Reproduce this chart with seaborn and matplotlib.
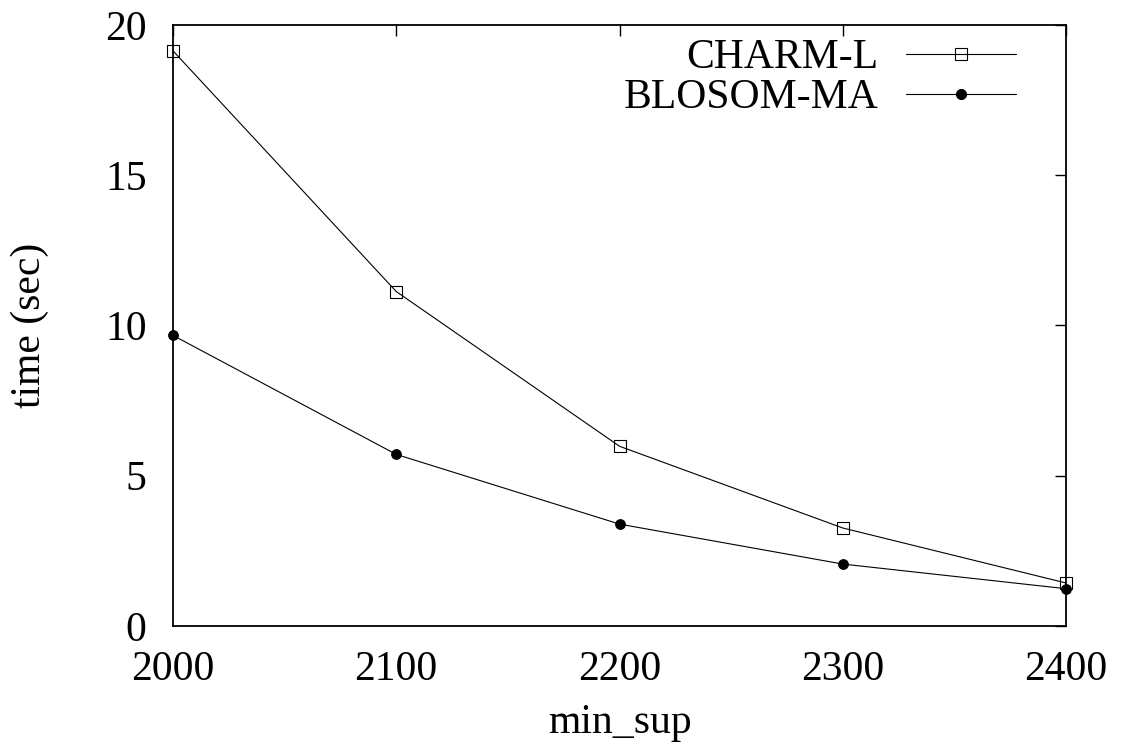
import matplotlib
matplotlib.use("Agg")
import matplotlib.pyplot as plt
import seaborn as sns
import pandas as pd
from matplotlib.lines import Line2D

min_sup = [2000, 2100, 2200, 2300, 2400]
charm_l = [19.14, 11.13, 5.98, 3.26, 1.43]
blosom_ma = [9.67, 5.71, 3.39, 2.06, 1.24]
series_names = ["CHARM-L", "BLOSOM-MA"]
x_ticks = [2000, 2100, 2200, 2300, 2400]
y_ticks = [0, 5, 10, 15, 20]

sns.set_theme(style="white")
plt.rcParams["font.family"] = ["Liberation Serif", "DejaVu Serif"]
plt.rcParams["text.color"] = "black"
plt.rcParams["axes.labelcolor"] = "black"
plt.rcParams["xtick.color"] = "black"
plt.rcParams["ytick.color"] = "black"

FS = 30

df = pd.DataFrame({
    "min_sup": min_sup * 2,
    "time": charm_l + blosom_ma,
    "series": [series_names[0]] * len(min_sup) + [series_names[1]] * len(min_sup),
})

fig = plt.figure(figsize=(11.21, 7.46), dpi=100)
ax = fig.add_axes([0.1543, 0.1609, 0.951 - 0.1543, 0.9665 - 0.1609])

sns.lineplot(data=df, x="min_sup", y="time", hue="series", style="series",
             palette={series_names[0]: "black", series_names[1]: "black"},
             markers={series_names[0]: "s", series_names[1]: "o"},
             dashes=False, linewidth=0.8, markersize=7, ax=ax, legend=False)

for ln in ax.get_lines():
    if ln.get_marker() == "s":
        ln.set_markerfacecolor("none")
        ln.set_markeredgecolor("black")
        ln.set_markeredgewidth(0.8)
        ln.set_markersize(8)
    else:
        ln.set_markerfacecolor("black")
        ln.set_markeredgecolor("black")
    ln.set_clip_on(False)

ax.set_xlim(2000, 2400)
ax.set_ylim(0, 20)
ax.set_xticks(x_ticks)
ax.set_yticks(y_ticks)
ax.tick_params(direction="in", length=8, width=1.0, top=True, right=True,
               labelsize=FS, colors="black")
ax.tick_params(axis="x", pad=18)
ax.tick_params(axis="y", pad=19)
for s in ax.spines.values():
    s.set_visible(True)
    s.set_color("black")
    s.set_linewidth(1.3)

ax.set_xlabel("min_sup", fontsize=FS, labelpad=10)
ax.set_ylabel("time (sec)", fontsize=FS, labelpad=40)

handles = [
    Line2D([], [], color="black", linewidth=0.8, marker="s", markersize=8,
           markerfacecolor="none", markeredgecolor="black", markeredgewidth=0.8),
    Line2D([], [], color="black", linewidth=0.8, marker="o", markersize=7,
           markerfacecolor="black"),
]
ax.legend(handles, series_names, loc="upper right", frameon=False,
          markerfirst=False, fontsize=FS, handlelength=2.64, handletextpad=0.67,
          labelspacing=0.04, borderaxespad=0, borderpad=0,
          bbox_to_anchor=(0.944, 0.977))

fig.savefig("out.png", dpi=100)
